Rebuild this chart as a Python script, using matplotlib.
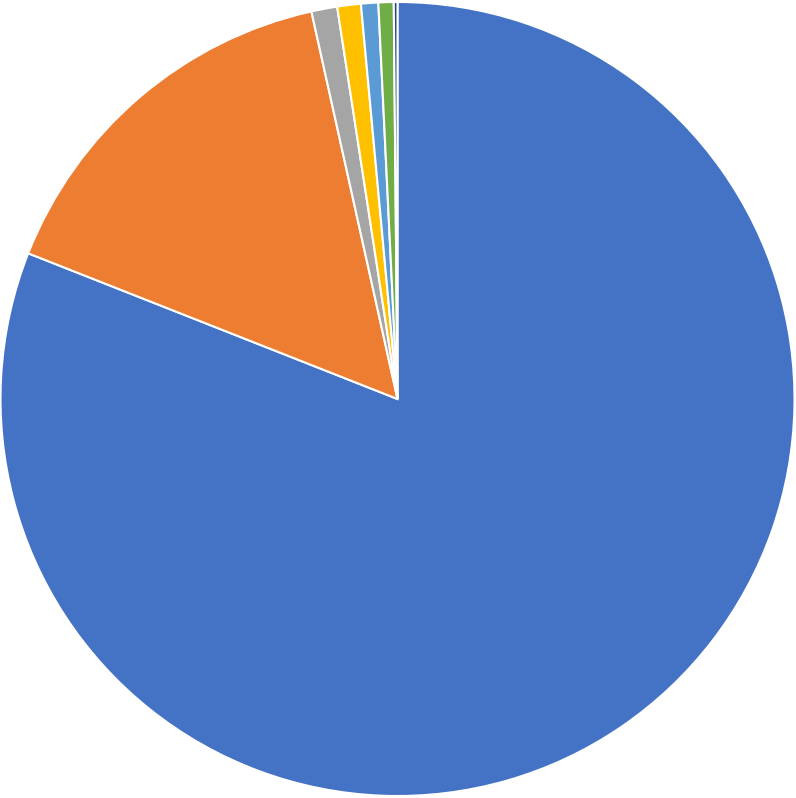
import matplotlib
matplotlib.use("Agg")
import matplotlib.pyplot as plt

# slice shares (percent), clockwise from 12 o'clock
labels = ['A', 'B', 'C', 'D', 'E', 'F', 'G']
values = [80.98, 15.54, 1.05, 0.96, 0.70, 0.62, 0.15]
colors = ['#4472C4', '#ED7D31', '#A5A5A5', '#FFC000', '#5B9BD5', '#70AD47', '#264478']

W, H = 796, 798
cx, cy, r = 397.5, 399.0, 397.0

fig = plt.figure(figsize=(W / 100, H / 100), dpi=100)
ax = fig.add_axes([0, 0, 1, 1])
ax.pie(values, colors=colors, startangle=90, counterclock=False, radius=1,
       wedgeprops=dict(edgecolor='white', linewidth=1.5))
ax.set_xlim(-cx / r, (W - cx) / r)
ax.set_ylim(-(H - cy) / r, cy / r)
ax.set_aspect('auto')
ax.axis('off')
fig.savefig('out.png', dpi=100)
